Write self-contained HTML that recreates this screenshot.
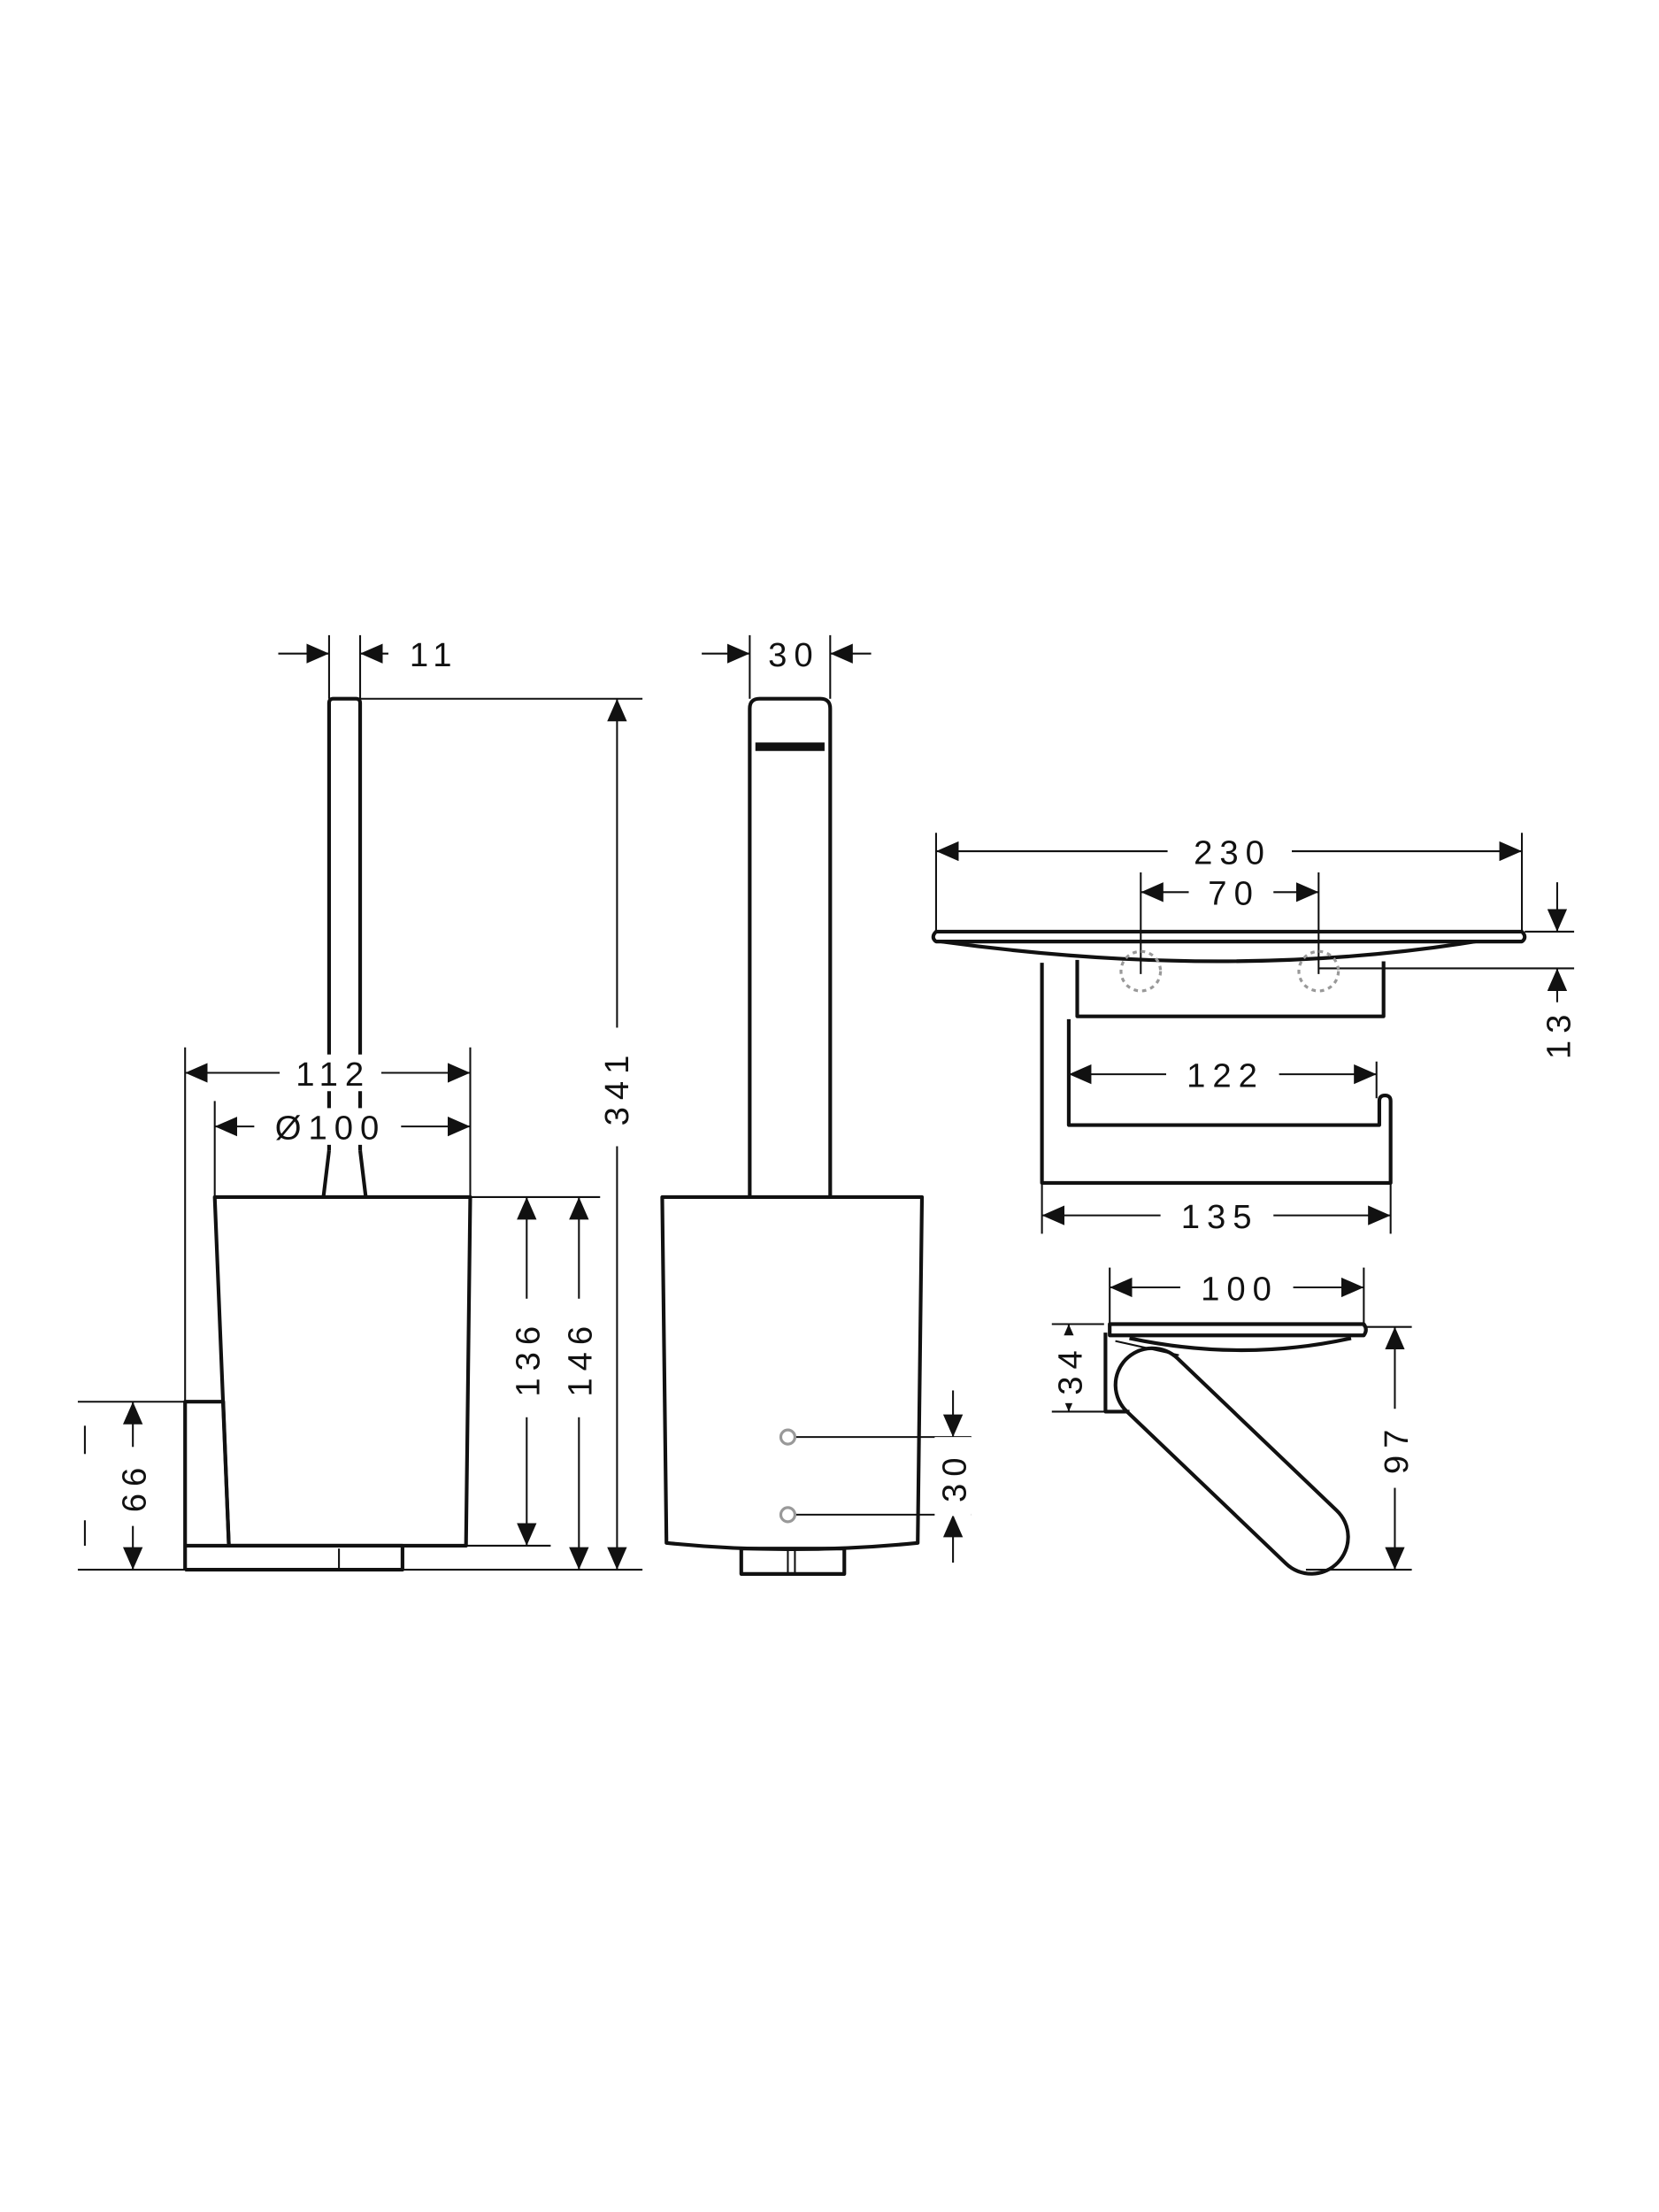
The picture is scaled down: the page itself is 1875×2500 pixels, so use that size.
<!DOCTYPE html>
<html><head><meta charset="utf-8"><style>
html,body{margin:0;padding:0;background:#fff}
svg{display:block}
text{font-family:"Liberation Sans",sans-serif;font-size:24px;letter-spacing:5px;fill:#111}
</style></head><body>
<svg width="1875" height="2500" viewBox="0 0 1175 1567" xmlns="http://www.w3.org/2000/svg">
<defs>
<marker id="a" viewBox="0 0 16 14" refX="16" refY="7" markerWidth="16" markerHeight="14" markerUnits="userSpaceOnUse" orient="auto-start-reverse"><path d="M0,0 L16,7 L0,14 z" fill="#111"/></marker>
</defs>
<g stroke="#111" stroke-width="1.3" fill="none">
<!-- LEFT VIEW dims -->
<line x1="197" y1="463" x2="233" y2="463" marker-end="url(#a)"/>
<line x1="275" y1="463" x2="255" y2="463" marker-end="url(#a)"/>
<line x1="233" y1="450" x2="233" y2="495"/><line x1="255" y1="450" x2="255" y2="495"/>
<line x1="255" y1="495" x2="455" y2="495"/>
<line x1="437" y1="495" x2="437" y2="1112" marker-start="url(#a)" marker-end="url(#a)"/>
<line x1="131" y1="760" x2="333" y2="760" marker-start="url(#a)" marker-end="url(#a)"/>
<line x1="152" y1="798" x2="333" y2="798" marker-start="url(#a)" marker-end="url(#a)"/>
<line x1="131" y1="742" x2="131" y2="993"/><line x1="333" y1="742" x2="333" y2="848"/>
<line x1="152" y1="780" x2="152" y2="848"/>
<line x1="333" y1="848" x2="425" y2="848"/><line x1="330" y1="1095" x2="390" y2="1095"/>
<line x1="55" y1="1112" x2="455" y2="1112"/><line x1="55" y1="993" x2="131" y2="993"/>
<line x1="373" y1="848" x2="373" y2="1095" marker-start="url(#a)" marker-end="url(#a)"/>
<line x1="410" y1="848" x2="410" y2="1112" marker-start="url(#a)" marker-end="url(#a)"/>
<line x1="94" y1="993" x2="94" y2="1112" marker-start="url(#a)" marker-end="url(#a)"/>
<line x1="60" y1="1010" x2="60" y2="1030"/><line x1="60" y1="1077" x2="60" y2="1095"/>
<!-- MIDDLE dims -->
<line x1="497" y1="463" x2="531" y2="463" marker-end="url(#a)"/>
<line x1="617" y1="463" x2="588" y2="463" marker-end="url(#a)"/>
<line x1="531" y1="450" x2="531" y2="495"/><line x1="588" y1="450" x2="588" y2="495"/>
<line x1="563" y1="1018" x2="688" y2="1018"/><line x1="563" y1="1073" x2="688" y2="1073"/>
<line x1="675" y1="985" x2="675" y2="1018" marker-end="url(#a)"/>
<line x1="675" y1="1107" x2="675" y2="1073" marker-end="url(#a)"/>
<!-- RIGHT TOP dims -->
<line x1="663" y1="603" x2="1078" y2="603" marker-start="url(#a)" marker-end="url(#a)"/>
<line x1="663" y1="590" x2="663" y2="660"/><line x1="1078" y1="590" x2="1078" y2="660"/>
<line x1="808" y1="632" x2="934" y2="632" marker-start="url(#a)" marker-end="url(#a)"/>
<line x1="808" y1="618" x2="808" y2="690"/><line x1="934" y1="618" x2="934" y2="690"/>
<line x1="757" y1="761" x2="975" y2="761" marker-start="url(#a)" marker-end="url(#a)"/>
<line x1="975" y1="752" x2="975" y2="778"/>
<line x1="738" y1="861" x2="985" y2="861" marker-start="url(#a)" marker-end="url(#a)"/>
<line x1="738" y1="838" x2="738" y2="874"/><line x1="985" y1="838" x2="985" y2="874"/>
<line x1="1080" y1="660" x2="1115" y2="660"/><line x1="934" y1="686" x2="1115" y2="686"/>
<line x1="1103" y1="625" x2="1103" y2="660" marker-end="url(#a)"/>
<line x1="1103" y1="720" x2="1103" y2="686" marker-end="url(#a)"/>
<!-- RIGHT BOTTOM dims -->
<line x1="786" y1="912" x2="966" y2="912" marker-start="url(#a)" marker-end="url(#a)"/>
<line x1="786" y1="898" x2="786" y2="940"/><line x1="966" y1="898" x2="966" y2="940"/>
<line x1="745" y1="938" x2="782" y2="938"/><line x1="745" y1="1000" x2="782" y2="1000"/>
<line x1="757" y1="938" x2="757" y2="1000" marker-start="url(#a)" marker-end="url(#a)"/>
<line x1="968" y1="940" x2="1000" y2="940"/><line x1="925" y1="1112" x2="1000" y2="1112"/>
<line x1="988" y1="940" x2="988" y2="1112" marker-start="url(#a)" marker-end="url(#a)"/>
</g>
<!-- OBJECT LINES -->
<g stroke="#111" stroke-width="2.6" fill="none" stroke-linejoin="round">
<!-- left handle -->
<path d="M233,815 L233,498 Q233,495 236,495 L252,495 Q255,495 255,498 L255,815"/>
<path d="M233,815 L229,848 M255,815 L259,848"/>
<path d="M152,848 L333,848 L330,1095 L162,1095 Z"/>
<path d="M131,1112 L131,993 L158,993 L162,1095"/>
<path d="M131,1095 L285,1095 L285,1112 L131,1112"/>
<line x1="240" y1="1097" x2="240" y2="1112" stroke-width="1.3"/>
<!-- middle -->
<path d="M531,848 L531,502 Q531,495 538,495 L581,495 Q588,495 588,502 L588,848"/>
<path d="M469,848 L653,848 L650,1093 Q560,1102 472,1093 Z"/>
<rect x="525" y="1097" width="73" height="18"/>
<line x1="558" y1="1097" x2="558" y2="1115" stroke-width="1.3"/><line x1="563" y1="1097" x2="563" y2="1115" stroke-width="1.3"/>
<!-- right top -->
<path d="M663,660 L1078,660 Q1082,664 1078,667 L663,667 Q659,664 663,660 Z"/>
<path d="M667,667 Q870,695 1045,667"/>
<path d="M738,682 L738,838 L985,838 L985,780 Q985,776 981,776 Q977,776 977,780 L977,797 L757,797 L757,722"/>
<path d="M763,680 L763,720 L980,720 L980,681"/>
<!-- right bottom -->
<path d="M786,938 L966,938 Q969,942 966,946 L786,946 Z"/>
<path d="M800,948 Q880,965 957,948"/>
<path d="M783,944 L783,1000 L800,1000"/>
<line x1="790" y1="950" x2="835" y2="960" stroke-width="1.3"/>
<g transform="translate(872.5,1035) rotate(43.7)"><rect x="-104" y="-26" width="208" height="52" rx="26"/></g>
</g>
<rect x="535" y="526" width="49" height="6" fill="#111"/>
<g stroke="#999" stroke-width="2" fill="none">
<circle cx="558" cy="1018" r="5"/><circle cx="558" cy="1073" r="5"/>
<circle cx="808" cy="688" r="14" stroke-dasharray="3,3"/><circle cx="934" cy="688" r="14" stroke-dasharray="3,3"/>
</g>
<!-- LABELS -->
<g>
<rect x="198" y="747" width="72" height="26" fill="#fff"/><text x="236" y="769" text-anchor="middle">112</text>
<rect x="180" y="785" width="104" height="26" fill="#fff"/><text x="234" y="807" text-anchor="middle">Ø100</text>
<text x="290" y="472">11</text>
<text x="544" y="472">30</text>
<rect x="827" y="592" width="88" height="24" fill="#fff"/><text x="873" y="612" text-anchor="middle">230</text>
<rect x="842" y="621" width="60" height="24" fill="#fff"/><text x="874" y="641" text-anchor="middle">70</text>
<rect x="826" y="750" width="80" height="24" fill="#fff"/><text x="868" y="770" text-anchor="middle">122</text>
<rect x="822" y="850" width="80" height="24" fill="#fff"/><text x="864" y="870" text-anchor="middle">135</text>
<rect x="836" y="901" width="80" height="24" fill="#fff"/><text x="878" y="921" text-anchor="middle">100</text>
<g transform="translate(445,770) rotate(-90)"><rect x="-42" y="-22" width="84" height="26" fill="#fff"/><text x="0" y="0" text-anchor="middle">341</text></g>
<g transform="translate(382,962) rotate(-90)"><rect x="-42" y="-22" width="84" height="26" fill="#fff"/><text x="0" y="0" text-anchor="middle">136</text></g>
<g transform="translate(419,962) rotate(-90)"><rect x="-42" y="-22" width="84" height="26" fill="#fff"/><text x="0" y="0" text-anchor="middle">146</text></g>
<g transform="translate(103,1053) rotate(-90)"><rect x="-28" y="-22" width="56" height="26" fill="#fff"/><text x="0" y="0" text-anchor="middle">66</text></g>
<g transform="translate(684,1046) rotate(-90)"><rect x="-28" y="-22" width="56" height="26" fill="#fff"/><text x="0" y="0" text-anchor="middle">30</text></g>
<g transform="translate(1112,732) rotate(-90)"><rect x="-22" y="-22" width="44" height="26" fill="#fff"/><text x="0" y="0" text-anchor="middle">13</text></g>
<g transform="translate(766,970) rotate(-90)"><rect x="-24" y="-22" width="48" height="26" fill="#fff"/><text x="0" y="0" text-anchor="middle">34</text></g>
<g transform="translate(997,1026) rotate(-90)"><rect x="-28" y="-22" width="56" height="26" fill="#fff"/><text x="0" y="0" text-anchor="middle">97</text></g>
</g>
</svg>
</body></html>
